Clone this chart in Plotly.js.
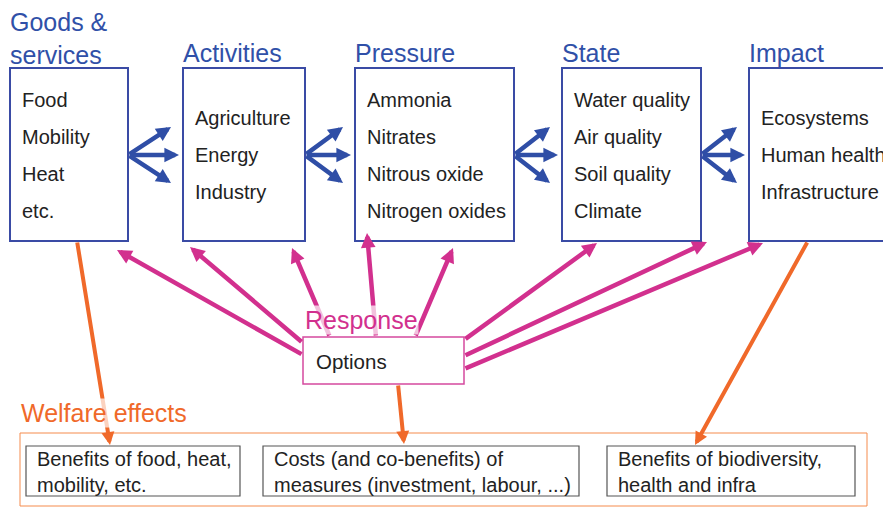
<!DOCTYPE html>
<html>
<head>
<meta charset="utf-8">
<script src="https://cdn.plot.ly/plotly-3.0.1.min.js"></script>
<style>
  html, body { margin: 0; padding: 0; background: #fff; }
  #plotArea { width: 883px; height: 507px; }
</style>
</head>
<body>
<div id="plotArea"></div>
<script>
// chain stages, left to right
var stageTitles = ["Goods &<br>services", "Activities", "Pressure", "State", "Impact"];
var stageItems = [
    ["Food", "Mobility", "Heat", "etc."],
    ["Agriculture", "Energy", "Industry"],
    ["Ammonia", "Nitrates", "Nitrous oxide", "Nitrogen oxides"],
    ["Water quality", "Air quality", "Soil quality", "Climate"],
    ["Ecosystems", "Human health", "Infrastructure"]
];
var responseTitle = "Response";
var responseItem = "Options";
var welfareTitle = "Welfare effects";
var welfareItems = [
    "Benefits of food, heat,<br>mobility, etc.",
    "Costs (and co-benefits) of<br>measures (investment, labour, ...)",
    "Benefits of biodiversity,<br>health and infra"
];

// layout (pixels, y down)
var boxLeft = [10, 183, 355, 562, 749];
var boxRight = [128, 305, 514, 701, 900];
var boxTop = 68, boxBottom = 241;
var blue = "#3a4ba5", blueArrow = "#2f4ea6", blueText = "#3050a8";
var magenta = "#d2308e", orange = "#f0692a";
var font = "Liberation Sans, Arial, sans-serif";

var shapes = [];
var annotations = [];

function arrow(x0, y0, x1, y1, color, width, size) {
    annotations.push({
        x: x1, y: y1, ax: x0, ay: y0,
        xref: "x", yref: "y", axref: "x", ayref: "y",
        text: "", showarrow: true, arrowhead: 2,
        arrowsize: size || 0.65, arrowwidth: width || 4,
        arrowcolor: color, standoff: 0, startstandoff: 0
    });
}
function label(x, y, txt, size, color, anchorY, bg) {
    annotations.push({
        x: x, y: y, xref: "x", yref: "y", text: txt,
        showarrow: false, xanchor: "left", yanchor: anchorY || "middle", align: "left",
        font: {family: font, size: size, color: color},
        bgcolor: bg || "rgba(0,0,0,0)", borderpad: 0
    });
}

// stage boxes + contents
stageTitles.forEach(function (t, i) {
    shapes.push({type: "rect", xref: "x", yref: "y", x0: boxLeft[i], x1: boxRight[i],
        y0: boxTop, y1: boxBottom, line: {color: blue, width: 2}, fillcolor: "rgba(0,0,0,0)"});
    label(boxLeft[i] - 1, i === 0 ? 38 : 53, t, 25, blueText);
    var first = stageItems[i].length === 4 ? 100 : 118;
    stageItems[i].forEach(function (it, k) {
        label(boxLeft[i] + 11, first + k * 37, it, 20, "#222");
    });
});

// blue fans between stages
for (var i = 0; i < 4; i++) {
    var ox = boxRight[i], nx = boxLeft[i + 1];
    arrow(ox, 155, nx - 12, 127, blueArrow, 4.5);
    arrow(ox, 155, nx - 4, 155, blueArrow, 4.5);
    arrow(ox, 155, nx - 12, 183, blueArrow, 4.5);
}

// response arrows
var respFrom = [[303, 355], [303, 343], [330, 337], [376, 337], [415, 337], [464, 340], [464, 356], [464, 369]];
var respTo = [[117, 250], [190, 247], [292, 248], [367, 233], [453, 248], [597, 243], [707, 242], [763, 243]];
respFrom.forEach(function (p, k) {
    arrow(p[0], p[1], respTo[k][0], respTo[k][1], magenta, 4.5);
});

// response box
shapes.push({type: "rect", xref: "x", yref: "y", x0: 303, x1: 464, y0: 337, y1: 384,
    line: {color: "#d54a9f", width: 1.5}, fillcolor: "#fff"});
label(304, 320, responseTitle, 25, magenta, "middle", "rgba(255,255,255,0.7)");
label(315, 361, responseItem, 20.5, "#222");

// welfare block
shapes.push({type: "rect", xref: "x", yref: "y", x0: 20, x1: 867, y0: 433, y1: 506,
    line: {color: "#f58b4c", width: 1}, fillcolor: "rgba(0,0,0,0)"});
var wLeft = [26, 263, 607], wRight = [240, 579, 855];
welfareItems.forEach(function (t, k) {
    shapes.push({type: "rect", xref: "x", yref: "y", x0: wLeft[k], x1: wRight[k], y0: 446, y1: 496,
        line: {color: "#555", width: 1.2}, fillcolor: "#fff"});
    label(wLeft[k] + 10, 472, t, 20, "#222");
});

// welfare arrows
arrow(77, 241, 110, 445, orange, 4);
arrow(398, 384, 404, 444, orange, 4);
arrow(808, 241, 695, 445, orange, 4);
label(20, 413, welfareTitle, 25, orange, "middle", "rgba(255,255,255,0.7)");

var layout = {
    width: 883, height: 507,
    margin: {l: 0, r: 0, t: 0, b: 0},
    paper_bgcolor: "#fff", plot_bgcolor: "#fff",
    xaxis: {range: [0, 883], visible: false, fixedrange: true},
    yaxis: {range: [507, 0], visible: false, fixedrange: true},
    showlegend: false,
    shapes: shapes,
    annotations: annotations
};

Plotly.newPlot("plotArea", [], layout, {staticPlot: true});
</script>
</body>
</html>
